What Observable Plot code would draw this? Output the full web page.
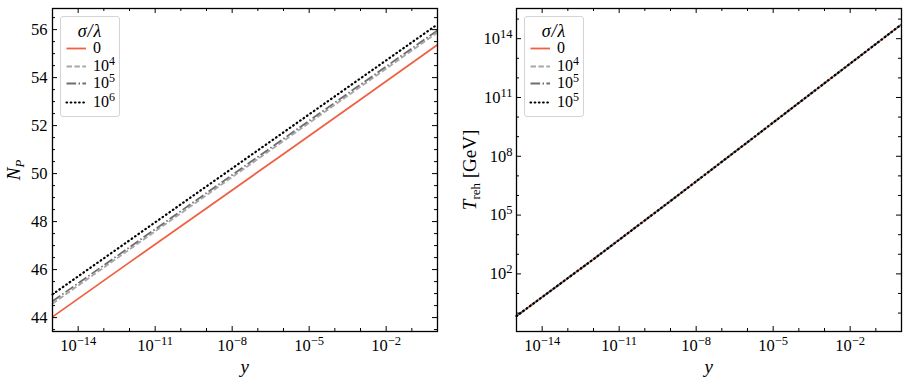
<!DOCTYPE html>
<html><head><meta charset="utf-8">
<script src="https://cdn.jsdelivr.net/npm/d3@7"></script>
<script src="https://cdn.jsdelivr.net/npm/@observablehq/plot@0.6"></script>
<style>
body{margin:0;background:#fff;}
#wrap{position:relative;width:910px;height:384px;font-family:"Liberation Serif",serif;color:#000;}
.panel{position:absolute;top:0;}
.lbl{position:absolute;white-space:nowrap;font-size:19px;line-height:1;}
.legend{position:absolute;border:1px solid #d4d4d4;border-radius:3px;background:rgba(255,255,255,0.85);font-size:16px;box-sizing:border-box;}
.legend .row{position:absolute;left:0;height:16px;line-height:16px;}
.legend .ttl{position:absolute;left:0;right:0;text-align:center;font-style:italic;height:15px;line-height:15px;font-size:18px;letter-spacing:1px;}
.sup{font-size:0.75em;vertical-align:0.5em;line-height:0;}
</style></head><body><div id="wrap"></div>
<script>
// ---------- data ----------
const yGrid = [1e-15, 1e-12, 1e-9, 1e-6, 1e-3, 1];
const seriesLabelsLeft = ["0", "10^4", "10^5", "10^6"];
const seriesLabelsRight = ["0", "10^4", "10^5", "10^5"];
// N_P (left panel)
const np0   = [44.03, 46.30, 48.56, 50.82, 53.09, 55.37];
const np1e4 = [44.58, 46.84, 49.10, 51.36, 53.62, 55.88];
const np1e5 = [44.68, 46.93, 49.19, 51.45, 53.71, 55.97];
const np1e6 = [44.97, 47.22, 49.47, 51.72, 53.97, 56.22];
// T_reh in GeV (right panel)
const tr0   = [0.71, 562, 5.25e5, 5.25e8, 5.37e11, 5.37e14];
const tr1e4 = [0.71, 562, 5.25e5, 5.25e8, 5.37e11, 5.37e14];
const tr1e5 = [0.71, 562, 5.25e5, 5.25e8, 5.37e11, 5.37e14];
const tr1e6 = [0.71, 562, 5.25e5, 5.25e8, 5.37e11, 5.37e14];
// ticks
const xMajor = [1e-14, 1e-11, 1e-8, 1e-5, 1e-2];
const xMinor = [1e-15,1e-13,1e-12,1e-10,1e-9,1e-7,1e-6,1e-4,1e-3,1e-1,1];
const npMajor = [44, 46, 48, 50, 52, 54, 56];
const npMinor = [43.5,44.5,45,45.5,46.5,47,47.5,48.5,49,49.5,50.5,51,51.5,52.5,53,53.5,54.5,55,55.5,56.5];
const trMajor = [1e2, 1e5, 1e8, 1e11, 1e14];
const trMinor = [1e0,1e1,1e3,1e4,1e6,1e7,1e9,1e10,1e12,1e13,1e15];

// ---------- styles ----------
const styles = [
  {stroke:"#ef6142", dash:null, cap:"butt"},
  {stroke:"#a8a8a8", dash:"5.5,2.4", cap:"butt"},
  {stroke:"#6e6e6e", dash:"9.6,2.4,1.5,2.4", cap:"butt"},
  {stroke:"#000000", dash:"0.6,3.6", cap:"round"}
];
const xDom = [1e-15, 1];
const npDom = [43.42, 56.88];
const trDom = [Math.pow(10,-0.94), Math.pow(10,15.54)];

const mk = (vals) => yGrid.map((x,i)=>({x, v: vals[i]}));
const fmtPow = d => { const e = Math.round(Math.log10(d)); return "10^" + (e<0 ? "\u2212"+(-e) : e); };

function lineMarks(series){
  return series.map((vals,i)=>Plot.line(mk(vals), {x:"x", y:"v", stroke:styles[i].stroke,
    strokeWidth: i===3 ? 2.2 : 1.8,
    strokeDasharray: styles[i].dash || undefined, strokeLinecap: styles[i].cap}));
}
function tickMarks(xd, yd, xmaj, xmin, ymaj, ymin){
  const M=5, m=3, out=[];
  for (const [arr,len] of [[xmaj,M],[xmin,m]]) {
    out.push(Plot.ruleX(arr, {x:d=>d, y1:yd[0], y2:yd[0], insetTop:-len, stroke:"black", strokeWidth:1}));
    out.push(Plot.ruleX(arr, {x:d=>d, y1:yd[1], y2:yd[1], insetBottom:-len, stroke:"black", strokeWidth:1}));
  }
  for (const [arr,len] of [[ymaj,M],[ymin,m]]) {
    out.push(Plot.ruleY(arr, {y:d=>d, x1:xd[0], x2:xd[0], insetRight:-len, stroke:"black", strokeWidth:1}));
    out.push(Plot.ruleY(arr, {y:d=>d, x1:xd[1], x2:xd[1], insetLeft:-len, stroke:"black", strokeWidth:1}));
  }
  return out;
}
const ns = "http://www.w3.org/2000/svg";
function supify(svg){
  svg.querySelectorAll("text").forEach(t=>{
    const s = t.textContent;
    if (!s.includes("^")) return;
    const [b,e] = s.split("^");
    while (t.firstChild) t.removeChild(t.firstChild);
    const t1 = document.createElementNS(ns,"tspan"); t1.textContent = b;
    const t2 = document.createElementNS(ns,"tspan"); t2.textContent = e;
    t2.setAttribute("dy","-0.48em"); t2.style.fontSize = "12.5px";
    t.appendChild(t1); t.appendChild(t2);
  });
}
const baseStyle = {fontFamily:"'Liberation Serif', serif", fontSize:"16.5px", color:"black", background:"transparent", overflow:"visible"};

const left = Plot.plot({
  width:455, height:384, marginLeft:52, marginRight:18, marginTop:8, marginBottom:53,
  style: baseStyle,
  x:{type:"log", domain:xDom},
  y:{domain:npDom},
  marks:[
    Plot.axisX({ticks:xMajor, tickSize:0, tickPadding:8, tickFormat:fmtPow, label:null}),
    Plot.axisY({ticks:npMajor, tickSize:0, tickPadding:5, tickFormat:d=>String(d), label:null}),
    ...lineMarks([np0, np1e4, np1e5, np1e6]),
    ...tickMarks(xDom, npDom, xMajor, xMinor, npMajor, npMinor),
    Plot.frame({stroke:"black", strokeWidth:1.3})
  ]
});
const right = Plot.plot({
  width:455, height:384, marginLeft:61, marginRight:9, marginTop:8, marginBottom:53,
  style: baseStyle,
  x:{type:"log", domain:xDom},
  y:{type:"log", domain:trDom},
  marks:[
    Plot.axisX({ticks:xMajor, tickSize:0, tickPadding:8, tickFormat:fmtPow, label:null}),
    Plot.axisY({ticks:trMajor, tickSize:0, tickPadding:4, tickFormat:fmtPow, label:null}),
    ...lineMarks([tr0, tr1e4, tr1e5, tr1e6]),
    ...tickMarks(xDom, trDom, xMajor, xMinor, trMajor, trMinor),
    Plot.frame({stroke:"black", strokeWidth:1.3})
  ]
});
supify(left); supify(right);
const wrap = document.getElementById("wrap");
left.classList.add("panel"); left.style.left = "0px";
right.classList.add("panel"); right.style.left = "455px";
wrap.appendChild(left); wrap.appendChild(right);

function html(s){ return s.replace(/10\^(\S+)/g, '10<span class="sup">$1</span>'); }
function addLabel(htmlStr, cx, cy, rot){
  const d = document.createElement("div"); d.className="lbl"; d.innerHTML = htmlStr;
  wrap.appendChild(d);
  const w = d.offsetWidth, h = d.offsetHeight;
  d.style.left = (cx - w/2) + "px"; d.style.top = (cy - h/2) + "px";
  if (rot) d.style.transform = "rotate(-90deg)";
}
addLabel('<i>y</i>', 244.5, 366, false);
addLabel('<i>y</i>', 708.5, 366, false);
addLabel('<i>N</i><sub style="font-size:13px;font-style:italic;vertical-align:-0.3em">P</sub>', 15, 169.5, true);
addLabel('<i>T</i><sub style="font-size:13px;vertical-align:-0.3em">reh</sub> [GeV]', 471, 169.5, true);

function addLegend(x, labels){
  const L = document.createElement("div"); L.className="legend";
  L.style.left = x+"px"; L.style.top = "16px"; L.style.width = "60px"; L.style.height = "101px";
  const t = document.createElement("div"); t.className="ttl"; t.style.top="6.5px"; t.textContent = "\u03C3/\u03BB"; L.appendChild(t);
  const rowsY = [22.7, 40.7, 58.3, 77.3];
  labels.forEach((lab,i)=>{
    const r = document.createElement("div"); r.className="row"; r.style.top = rowsY[i]+"px"; r.style.width="60px";
    const st = styles[i];
    r.innerHTML = `<svg width="30" height="16" style="position:absolute;left:0;top:0"><line x1="5.5" x2="25" y1="8.5" y2="8.5" stroke="${st.stroke}" stroke-width="${i===3?2.2:1.8}" ${st.dash?`stroke-dasharray="${st.dash}"`:""} stroke-linecap="${st.cap}"/></svg><span style="position:absolute;left:32px;top:0">${html(lab)}</span>`;
    L.appendChild(r);
  });
  wrap.appendChild(L);
}
addLegend(60, seriesLabelsLeft);
addLegend(524, seriesLabelsRight);
</script></body></html>
